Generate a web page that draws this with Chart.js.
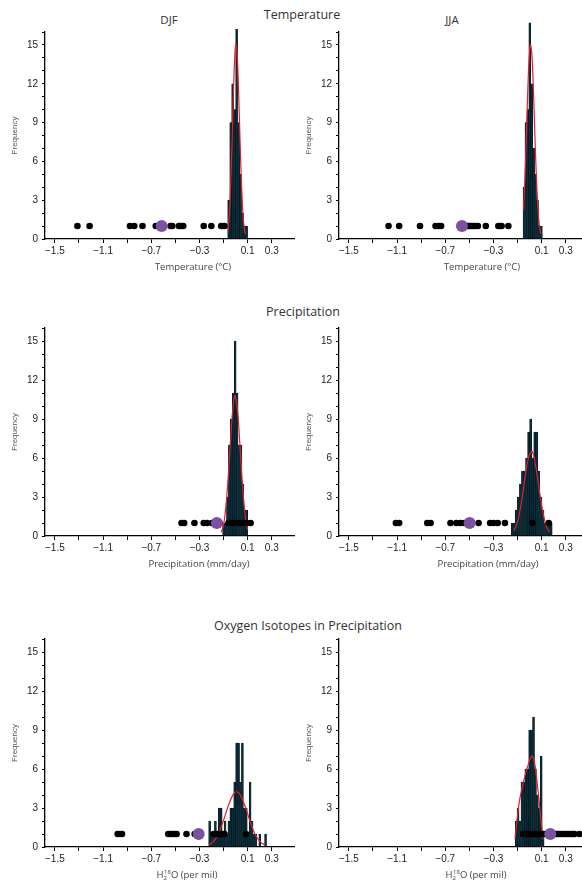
<!DOCTYPE html>
<html>
<head>
<meta charset="utf-8">
<script src="https://cdn.jsdelivr.net/npm/chart.js@4.4.1/dist/chart.umd.min.js"></script>
<style>
  body { margin: 0; width: 582px; height: 881px; overflow: hidden; background: #fff; position: relative; }
  canvas { position: absolute; }
  .txt { position: absolute; transform: translate(-50%, -50%); white-space: nowrap; font-family: 'Open Sans', sans-serif; color: #333; }
  .head { font-size: 12.5px; }
  .season { font-size: 11.5px; }
  .xtitle { font-size: 9.5px; color: #444; }
  .sub { font-size: 6px; vertical-align: -2px; }
  .sup { font-size: 6px; vertical-align: 4px; margin-left: -3px; }
</style>
</head>
<body>

<div class="txt head" style="left:302px; top:14px;">Temperature</div>
<div class="txt season" style="left:169px; top:19px;">DJF</div>
<div class="txt season" style="left:452px; top:19px;">JJA</div>
<div class="txt head" style="left:303px; top:311px;">Precipitation</div>
<div class="txt head" style="left:308px; top:625px;">Oxygen Isotopes in Precipitation</div>

<canvas id="tempDjfChart" width="300" height="258" style="left:0px; top:12px;"></canvas>
<canvas id="tempJjaChart" width="300" height="258" style="left:294px; top:12px;"></canvas>
<canvas id="precDjfChart" width="300" height="258" style="left:0px; top:308px;"></canvas>
<canvas id="precJjaChart" width="300" height="258" style="left:294px; top:308px;"></canvas>
<canvas id="isoDjfChart" width="300" height="258" style="left:0px; top:619px;"></canvas>
<canvas id="isoJjaChart" width="300" height="258" style="left:294px; top:619px;"></canvas>

<div class="txt xtitle" style="left:193px; top:266px;">Temperature (°C)</div>
<div class="txt xtitle" style="left:482px; top:266px;">Temperature (°C)</div>
<div class="txt xtitle" style="left:199px; top:563px;">Precipitation (mm/day)</div>
<div class="txt xtitle" style="left:488px; top:563px;">Precipitation (mm/day)</div>
<div class="txt xtitle" style="left:187px; top:875px;">H<span class="sub">2</span><span class="sup">18</span>O (per mil)</div>
<div class="txt xtitle" style="left:476px; top:875px;">H<span class="sub">2</span><span class="sup">18</span>O (per mil)</div>

<script>
// Eixos

var xTickValues = [-1.5, -1.3, -1.1, -0.9, -0.7, -0.5, -0.3, -0.1, 0.1, 0.3];
var xTickLabels = ['−1.5', '', '−1.1', '', '−0.7', '', '−0.3', '', '0.1', '0.3'];
var yTickValues = [0, 1, 2, 3, 4, 5, 6, 7, 8, 9, 10, 11, 12, 13, 14, 15, 16];
var yTickLabels = ['0', '', '', '3', '', '', '6', '', '', '9', '', '', '12', '', '', '15', ''];
var dotLevel = 1;

// Temperature DJF

var tempDjfBins = [-0.058, -0.041, -0.025, -0.008, 0.008, 0.025, 0.041, 0.058, 0.074, 0.091];
var tempDjfCounts = [3, 9, 12, 10, 16.2, 9, 5, 2, 1, 1];
var tempDjfFitX = [-0.064, -0.05, -0.04, -0.03, -0.02, -0.01, 0.0, 0.01, 0.02, 0.03, 0.04, 0.05, 0.06, 0.07, 0.08];
var tempDjfFitY = [0.5, 2.2, 4.6, 7.5, 10.8, 13.6, 15.0, 14.7, 12.6, 9.6, 6.5, 3.9, 2.0, 0.9, 0.4];
var tempDjfDots = [-1.313, -1.212, -0.877, -0.841, -0.773, -0.663, -0.640, -0.627, -0.540, -0.526, -0.471, -0.455, -0.435, -0.265, -0.202, -0.120, -0.100, -0.092];
var tempDjfMean = [-0.614];

// Temperature JJA

var tempJjaBins = [-0.047, -0.031, -0.015, 0.001, 0.017, 0.033, 0.049, 0.065, 0.081, 0.097];
var tempJjaCounts = [4, 9, 10, 16.7, 12, 7, 5, 3, 1, 1];
var tempJjaFitX = [-0.052, -0.04, -0.03, -0.02, -0.01, 0.0, 0.008, 0.02, 0.03, 0.04, 0.05, 0.06, 0.07, 0.08, 0.092];
var tempJjaFitY = [2.2, 4.6, 7.2, 10.2, 12.9, 14.6, 15.0, 14.0, 11.8, 9.0, 6.2, 3.9, 2.2, 1.1, 0.4];
var tempJjaDots = [-1.171, -1.083, -0.910, -0.781, -0.754, -0.735, -0.534, -0.520, -0.507, -0.493, -0.479, -0.465, -0.452, -0.430, -0.364, -0.260, -0.245, -0.233, -0.177];
var tempJjaMean = [-0.562];

// Precipitation DJF

var precDjfBins = [-0.100, -0.084, -0.068, -0.052, -0.036, -0.020, -0.004, 0.012, 0.028, 0.044, 0.060, 0.076, 0.092];
var precDjfCounts = [1, 1, 3, 7, 9, 11, 15, 11, 7, 7, 4, 2, 2];
var precDjfFitX = [-0.12, -0.105, -0.09, -0.075, -0.06, -0.045, -0.03, -0.015, -0.005, 0.015, 0.03, 0.045, 0.06, 0.075, 0.09, 0.1];
var precDjfFitY = [0.3, 0.7, 1.5, 2.9, 4.8, 7.0, 9.1, 10.5, 10.8, 9.7, 7.8, 5.5, 3.5, 1.9, 0.9, 0.5];
var precDjfDots = [-0.449, -0.427, -0.342, -0.265, -0.238, -0.197, -0.175, -0.134, -0.060, -0.032, 0.0, 0.028, 0.058, 0.091, 0.124];
var precDjfMean = [-0.156];

// Precipitation JJA

var precJjaBins = [-0.1445, -0.1275, -0.1105, -0.0935, -0.0765, -0.0595, -0.0425, -0.0255, -0.0085, 0.0085, 0.0255, 0.0425, 0.0595, 0.0765, 0.0935, 0.1105, 0.1275, 0.1445, 0.1615, 0.1785];
var precJjaCounts = [1, 1, 2, 3, 4, 5, 5, 6, 8, 9, 6, 8, 8, 5, 3, 2, 1, 1, 1, 1];
var precJjaFitX = [-0.13, -0.10, -0.07, -0.04, -0.01, 0.02, 0.05, 0.08, 0.11, 0.14, 0.165];
var precJjaFitY = [0.4, 1.1, 2.5, 4.4, 6.0, 6.5, 5.4, 3.5, 1.8, 0.7, 0.3];
var precJjaDots = [-1.110, -1.083, -0.850, -0.822, -0.657, -0.608, -0.575, -0.542, -0.515, -0.424, -0.328, -0.301, -0.265, -0.205, 0.023, 0.158];
var precJjaMean = [-0.498];

// Oxygen isotopes DJF

var isoDjfBins = [-0.216, -0.200, -0.184, -0.168, -0.152, -0.136, -0.120, -0.104, -0.088, -0.072, -0.056, -0.040, -0.024, -0.008, 0.008, 0.024, 0.040, 0.056, 0.072, 0.088, 0.104, 0.120, 0.136, 0.152, 0.168, 0.184, 0.200, 0.216, 0.232, 0.248];
var isoDjfCounts = [2, 1, 1, 2, 1, 3, 3, 1, 2, 1, 2, 3, 3, 5, 8, 8, 5, 8, 3, 3, 1, 5, 2, 1, 1, 0, 1, 0, 0, 1];
var isoDjfFitX = [-0.22, -0.18, -0.14, -0.10, -0.06, -0.02, 0.01, 0.04, 0.08, 0.12, 0.16, 0.20, 0.24];
var isoDjfFitY = [0.17, 0.48, 1.1, 2.07, 3.2, 4.05, 4.25, 3.99, 3.09, 1.96, 1.0, 0.43, 0.15];
var isoDjfDots = [-0.979, -0.960, -0.943, -0.559, -0.542, -0.526, -0.508, -0.490, -0.408, -0.340, -0.320, -0.183, -0.170, -0.156, -0.142, -0.128, -0.110, -0.093, 0.086];
var isoDjfMean = [-0.307];

// Oxygen isotopes JJA

var isoJjaBins = [-0.112, -0.096, -0.080, -0.064, -0.048, -0.032, -0.016, 0.0, 0.016, 0.032, 0.048, 0.064, 0.080, 0.096, 0.112];
var isoJjaCounts = [2, 3, 2, 5, 5, 6, 6, 9, 9, 10, 6, 4, 3, 7, 1];
var isoJjaFitX = [-0.122, -0.10, -0.08, -0.054, -0.03, -0.013, 0.005, 0.02, 0.04, 0.056, 0.07, 0.083, 0.097, 0.111];
var isoJjaFitY = [0.6, 2.5, 3.8, 4.9, 5.8, 6.3, 6.8, 7.0, 6.5, 5.4, 4.3, 3.1, 1.8, 0.6];
var isoJjaDots = [-0.054, -0.040, -0.025, -0.010, 0.005, 0.020, 0.035, 0.050, 0.065, 0.080, 0.095, 0.110, 0.125, 0.140, 0.195, 0.210, 0.225, 0.240, 0.255, 0.270, 0.285, 0.300, 0.315, 0.330, 0.345, 0.360, 0.371, 0.413];
var isoJjaMean = [0.171];

// Gráficos

var tickFont = { family: 'Liberation Sans, Arial, sans-serif', size: 10 };

function makePanel(canvasId, bins, counts, fitX, fitY, dots, mean, plotHeight) {
  var xAxisHeight = 258 - 20 - plotHeight;

  var data = {
    datasets: [
      {
        type: 'scatter',
        data: mean.map(function (v) { return { x: v, y: dotLevel }; }),
        backgroundColor: '#7b51a4',
        borderWidth: 0,
        pointRadius: 6,
        order: 0,
        clip: false
      },
      {
        type: 'scatter',
        data: dots.map(function (v) { return { x: v, y: dotLevel }; }),
        backgroundColor: '#000',
        borderWidth: 0,
        pointRadius: 3.3,
        order: 1,
        clip: false
      },
      {
        type: 'line',
        data: fitX.map(function (v, i) { return { x: v, y: fitY[i] }; }),
        borderColor: '#e3202b',
        borderWidth: 1.2,
        pointRadius: 0,
        tension: 0.4,
        fill: false,
        order: 2
      },
      {
        type: 'bar',
        data: bins.map(function (v, i) { return { x: v, y: counts[i] }; }),
        backgroundColor: '#0a2d39',
        borderColor: '#021218',
        borderWidth: 0.5,
        barPercentage: 1,
        categoryPercentage: 1,
        order: 3,
        clip: false
      }
    ]
  };

  var options = {
    responsive: false,
    animation: false,
    layout: { padding: { top: 20, right: 4, bottom: 0, left: 0 } },
    plugins: {
      legend: { display: false },
      tooltip: { enabled: false }
    },
    scales: {
      x: {
        type: 'linear',
        min: -1.582,
        max: 0.484,
        offset: false,
        afterBuildTicks: function (scale) {
          scale.ticks = xTickValues.map(function (v) { return { value: v }; });
        },
        afterFit: function (scale) { scale.height = xAxisHeight; },
        grid: { display: true, offset: false, drawOnChartArea: false, drawTicks: true, tickLength: 4, color: '#000', tickWidth: 1 },
        border: { display: true, color: '#000', width: 1.3 },
        ticks: {
          autoSkip: false,
          maxRotation: 0,
          padding: 2,
          color: '#222',
          font: tickFont,
          callback: function (value, index) { return xTickLabels[index]; }
        }
      },
      y: {
        type: 'linear',
        min: 0,
        max: 16,
        afterBuildTicks: function (scale) {
          scale.ticks = yTickValues.map(function (v) { return { value: v }; });
        },
        afterFit: function (scale) { scale.width = 45; },
        grid: { display: true, drawOnChartArea: false, drawTicks: true, tickLength: 3, color: '#000', tickWidth: 1 },
        border: { display: true, color: '#000', width: 1.3 },
        title: {
          display: true,
          text: 'Frequency',
          color: '#555',
          font: { family: 'Liberation Sans, Arial, sans-serif', size: 8 },
          padding: { top: 10, bottom: 0 }
        },
        ticks: {
          autoSkip: false,
          padding: 4,
          color: '#222',
          font: tickFont,
          callback: function (value, index) { return yTickLabels[index]; }
        }
      }
    }
  };

  var ctx = document.getElementById(canvasId).getContext('2d');
  return new Chart(ctx, { type: 'bar', data: data, options: options });
}

var chartTempDjf = makePanel('tempDjfChart', tempDjfBins, tempDjfCounts, tempDjfFitX, tempDjfFitY, tempDjfDots, tempDjfMean, 207);
var chartTempJja = makePanel('tempJjaChart', tempJjaBins, tempJjaCounts, tempJjaFitX, tempJjaFitY, tempJjaDots, tempJjaMean, 207);
var chartPrecDjf = makePanel('precDjfChart', precDjfBins, precDjfCounts, precDjfFitX, precDjfFitY, precDjfDots, precDjfMean, 208);
var chartPrecJja = makePanel('precJjaChart', precJjaBins, precJjaCounts, precJjaFitX, precJjaFitY, precJjaDots, precJjaMean, 208);
var chartIsoDjf = makePanel('isoDjfChart', isoDjfBins, isoDjfCounts, isoDjfFitX, isoDjfFitY, isoDjfDots, isoDjfMean, 208);
var chartIsoJja = makePanel('isoJjaChart', isoJjaBins, isoJjaCounts, isoJjaFitX, isoJjaFitY, isoJjaDots, isoJjaMean, 208);
</script>
</body>
</html>
